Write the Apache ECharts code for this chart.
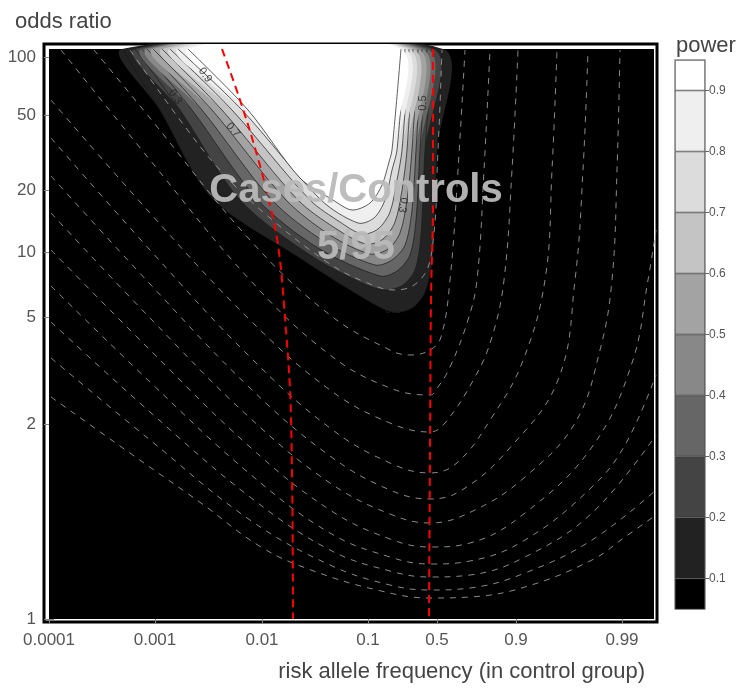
<!doctype html>
<html lang="en">
<head>
<meta charset="utf-8">
<title>Power contour</title>
<script src="https://cdn.jsdelivr.net/npm/echarts@6/dist/echarts.min.js"></script>
</head>
<body style="margin:0;background:#fff">
<div id="main" style="width:750px;height:700px;"></div>
<script>
// axis positions (scale units) and their tick labels
var xTickPos = [0, 1.06, 2.13, 3.19, 3.88, 4.67, 5.73];
var xTickLabels = ['0.0001', '0.001', '0.01', '0.1', '0.5', '0.9', '0.99'];
var yTickPos = [0, 1.95, 3.02, 3.67, 4.29, 5.04, 5.62];
var yTickLabels = ['1', '2', '5', '10', '20', '50', '100'];

// power contours 0.1 .. 0.9
var powerLevels = [0.1, 0.2, 0.3, 0.4, 0.5, 0.6, 0.7, 0.8, 0.9];
var bandColors = ['#222222', '#444444', '#666666', '#888888', '#a3a3a3', '#c4c4c4', '#dcdcdc', '#efefef', '#ffffff'];
var contours = [
  [[0.73,5.70],[1.11,5.09],[1.63,4.21],[2.51,3.61],[3.18,3.19],[3.44,3.07],[3.63,3.11],[3.76,3.27],[3.83,3.59],[3.88,4.69],[3.94,5.70]],
  [[0.86,5.70],[1.31,5.09],[1.91,4.19],[2.61,3.64],[3.11,3.37],[3.36,3.29],[3.54,3.34],[3.66,3.49],[3.72,3.84],[3.76,4.69],[3.84,5.70]],
  [[0.93,5.70],[1.43,5.09],[2.09,4.19],[2.69,3.71],[3.31,3.43],[3.48,3.48],[3.61,3.64],[3.67,3.99],[3.71,4.69],[3.78,5.70]],
  [[0.98,5.70],[1.53,5.09],[2.23,4.19],[2.76,3.77],[3.26,3.54],[3.43,3.59],[3.56,3.74],[3.63,4.09],[3.67,4.69],[3.73,5.70]],
  [[1.04,5.70],[1.63,5.09],[2.37,4.19],[2.81,3.84],[3.21,3.65],[3.39,3.70],[3.51,3.86],[3.58,4.19],[3.63,4.69],[3.69,5.70]],
  [[1.13,5.70],[1.73,5.09],[2.49,4.19],[2.86,3.91],[3.17,3.75],[3.34,3.80],[3.46,3.97],[3.53,4.29],[3.58,4.69],[3.64,5.70]],
  [[1.21,5.70],[1.83,5.09],[2.61,4.19],[2.91,3.97],[3.13,3.85],[3.29,3.90],[3.41,4.07],[3.48,4.39],[3.53,4.69],[3.60,5.70]],
  [[1.29,5.70],[1.93,5.09],[2.72,4.19],[3.09,3.96],[3.25,4.01],[3.36,4.19],[3.43,4.49],[3.48,4.69],[3.56,5.70]],
  [[1.39,5.70],[1.99,5.09],[2.51,4.41],[2.84,4.19],[3.03,4.09],[3.21,4.16],[3.33,4.34],[3.40,4.57],[3.43,4.69],[3.52,5.70]]
];
var contourLabels = [
  [1.56, 5.44, '0.9', -55], [1.26, 5.22, '0.3', -55], [1.84, 4.89, '0.7', -50],
  [3.74, 5.16, '0.5', 90], [3.54, 4.14, '0.3', -100], [3.44, 3.09, '0.1', 0]
];

// gray dashed iso-curves
var dashCurves = [
  [[0.81,5.69],[1.31,4.99],[1.71,4.49],[2.14,4.07],[2.78,3.57],[3.16,3.37],[3.46,3.29],[3.71,3.39],[3.83,3.69],[3.89,4.69],[3.93,5.69]],
  [[0.45,5.69],[1.01,5.01],[2.01,3.79],[2.81,3.04],[3.41,2.69],[3.61,2.64],[3.81,2.69],[3.92,2.82],[4.01,3.39],[4.09,4.49],[4.16,5.69]],
  [[0.12,5.69],[1.01,4.59],[2.01,3.39],[2.81,2.64],[3.41,2.31],[3.81,2.24],[3.89,2.32],[4.01,2.52],[4.19,2.99],[4.28,3.39],[4.35,4.49],[4.41,5.69]],
  [[0.02,5.19],[1.01,4.06],[2.01,2.99],[2.81,2.29],[3.41,1.96],[3.81,1.87],[3.96,1.96],[4.26,2.42],[4.43,2.82],[4.55,3.39],[4.63,4.49],[4.69,5.69]],
  [[0.02,4.81],[1.01,3.69],[2.01,2.62],[2.81,1.91],[3.41,1.56],[3.81,1.46],[4.09,1.57],[4.43,2.02],[4.73,2.56],[4.96,3.39],[5.03,4.49],[5.08,5.69]],
  [[0.02,4.43],[1.01,3.35],[2.01,2.31],[2.81,1.63],[3.41,1.29],[3.81,1.20],[4.13,1.29],[4.59,1.69],[5.09,2.39],[5.26,3.39],[5.34,4.49],[5.39,5.69]],
  [[0.02,4.06],[1.01,3.01],[2.01,2.01],[2.81,1.36],[3.41,1.05],[3.81,0.96],[4.26,1.09],[4.76,1.42],[5.26,1.96],[5.51,2.69],[5.63,3.39],[5.68,4.49],[5.71,5.69]],
  [[0.02,3.69],[1.01,2.69],[2.01,1.72],[2.81,1.09],[3.41,0.80],[3.81,0.72],[4.21,0.76],[4.76,1.06],[5.43,1.72],[5.83,2.56],[5.99,3.39],[6.07,3.89]],
  [[0.02,3.33],[1.01,2.37],[2.01,1.45],[2.81,0.86],[3.41,0.62],[3.81,0.55],[4.21,0.58],[4.76,0.79],[5.43,1.32],[5.76,1.74],[6.07,2.44]],
  [[0.02,2.97],[1.01,2.07],[2.01,1.22],[2.81,0.69],[3.41,0.48],[3.81,0.42],[4.21,0.44],[4.76,0.62],[5.43,1.06],[6.07,1.84]],
  [[0.02,2.61],[1.01,1.79],[2.01,0.99],[2.81,0.54],[3.41,0.34],[3.81,0.29],[4.21,0.31],[4.76,0.46],[5.43,0.79],[6.07,1.29]],
  [[0.02,2.22],[0.95,1.56],[1.52,1.16],[2.12,0.72],[2.62,0.49],[3.28,0.29],[3.81,0.21],[4.21,0.22],[4.76,0.32],[5.43,0.59],[5.76,0.82],[6.07,1.04]]
];

// red dashed reference lines
var redLeft = [[1.73,5.70],[1.91,5.19],[2.08,4.64],[2.21,4.14],[2.29,3.74],[2.35,3.14],[2.42,2.02],[2.44,0]];
var redRight = [[3.84,5.70],[3.84,4.19],[3.82,3.19],[3.81,1.69],[3.80,0]];

// plot area extent and colour bar bands
var plotBox = [[0, 0], [6.05, 5.70]];
var barLevels = [0.1, 0.2, 0.3, 0.4, 0.5, 0.6, 0.7, 0.8, 0.9];
var barColors = ['#000000', '#222222', '#444444', '#666666', '#888888', '#a3a3a3', '#c4c4c4', '#dcdcdc', '#efefef', '#ffffff'];
var barSizes = [0.1, 0.1, 0.1, 0.1, 0.1, 0.1, 0.1, 0.1, 0.1, 0.05];

function labelFor(pos, labels, value) {
  for (var i = 0; i < pos.length; i++) if (Math.abs(pos[i] - value) < 1e-6) return labels[i];
  return '';
}

var chart = echarts.init(document.getElementById('main'));
var FONT = 'Liberation Sans';

function axisX(pos, show) {
  return {
    type: 'value', gridIndex: 0, min: -0.05, max: 6.08, position: pos,
    axisLine: { show: false }, splitLine: { show: false },
    axisTick: { show: true, customValues: xTickPos, length: 5, lineStyle: { color: '#888' } },
    axisLabel: { show: show, customValues: xTickPos, color: '#555', fontSize: 17, fontFamily: FONT, margin: 10,
      formatter: function (v) { return labelFor(xTickPos, xTickLabels, v); } }
  };
}
function axisY(pos, show) {
  return {
    type: 'value', gridIndex: 0, min: -0.03, max: 5.75, position: pos,
    axisLine: { show: false }, splitLine: { show: false },
    axisTick: { show: true, customValues: yTickPos, length: 5, lineStyle: { color: '#888' } },
    axisLabel: { show: show, customValues: yTickPos, color: '#555', fontSize: 17, fontFamily: FONT, margin: 8,
      formatter: function (v) { return labelFor(yTickPos, yTickLabels, v); } }
  };
}

var series = [];
series.push({
  type: 'custom', xAxisIndex: 0, yAxisIndex: 0, clip: true, silent: true, z: 1,
  data: [0],
  renderItem: function (params, api) {
    var a = api.coord(plotBox[0]), b = api.coord(plotBox[1]);
    return { type: 'rect', shape: { x: a[0], y: b[1], width: b[0] - a[0], height: a[1] - b[1] }, style: { fill: '#000' } };
  }
});
series.push({
  type: 'custom', xAxisIndex: 0, yAxisIndex: 0, clip: true, silent: true, z: 2,
  data: powerLevels.map(function (l, i) { return [i]; }),
  renderItem: function (params, api) {
    var i = api.value(0);
    var pts = contours[i].map(function (p) { return api.coord(p); });
    return { type: 'group', children: [
      { type: 'polygon', shape: { points: pts, smooth: 0.3 }, style: { fill: bandColors[i] } },
      { type: 'polyline', shape: { points: pts, smooth: 0.3 }, style: { stroke: '#1a1a1a', lineWidth: 0.7, fill: null } }
    ] };
  }
});
dashCurves.forEach(function (c) {
  series.push({ type: 'line', xAxisIndex: 0, yAxisIndex: 0, data: c, smooth: 0.4, symbol: 'none', silent: true, z: 3,
    lineStyle: { color: '#9a9a9a', width: 0.9, type: [6, 6] } });
});
[redLeft, redRight].forEach(function (c) {
  series.push({ type: 'line', xAxisIndex: 0, yAxisIndex: 0, data: c, smooth: 0.4, symbol: 'none', silent: true, z: 4,
    lineStyle: { color: '#ff0000', width: 2, type: [8, 5] } });
});
series.push({
  type: 'scatter', xAxisIndex: 0, yAxisIndex: 0, symbolSize: 0, silent: true, z: 5,
  data: contourLabels.map(function (d) {
    return { value: [d[0], d[1]], label: { show: true, formatter: d[2], rotate: d[3], position: 'inside',
      color: '#222', fontSize: 11, fontFamily: FONT } };
  })
});
barSizes.forEach(function (v, i) {
  series.push({ type: 'bar', xAxisIndex: 2, yAxisIndex: 2, stack: 'cb', data: [v], barWidth: '100%', silent: true,
    itemStyle: { color: barColors[i], borderColor: '#333', borderWidth: 0.6 } });
});

chart.setOption({
  animation: false,
  title: [
    { text: 'odds ratio', left: 10, top: 6, textStyle: { color: '#444', fontSize: 22, fontWeight: 'normal', fontFamily: FONT } },
    { text: 'risk allele frequency (in control group)', right: 100, top: 656, textStyle: { color: '#444', fontSize: 22, fontWeight: 'normal', fontFamily: FONT } },
    { text: 'power', left: 671, top: 30, textStyle: { color: '#444', fontSize: 22, fontWeight: 'normal', fontFamily: FONT } },
    { text: 'Cases/Controls', left: 351, top: 166, textAlign: 'center', z: 10, textStyle: { color: 'rgba(185,185,185,0.95)', fontSize: 40, fontWeight: 'bold', fontFamily: FONT } },
    { text: '5/95', left: 351, top: 223, textAlign: 'center', z: 10, textStyle: { color: 'rgba(185,185,185,0.95)', fontSize: 40, fontWeight: 'bold', fontFamily: FONT } }
  ],
  grid: [
    { left: 44, right: 93, top: 44, bottom: 78, show: true, borderColor: '#000', borderWidth: 3, backgroundColor: '#fff' },
    { left: 675, width: 30, top: 60, height: 549, show: true, borderColor: '#999', borderWidth: 1.5 }
  ],
  xAxis: [
    axisX('bottom', true), axisX('top', false),
    { type: 'category', gridIndex: 1, data: ['power'], show: false }
  ],
  yAxis: [
    axisY('left', true), axisY('right', false),
    { type: 'value', gridIndex: 1, min: 0.05, max: 0.95, position: 'right',
      axisLine: { show: false }, splitLine: { show: false },
      axisTick: { show: true, customValues: barLevels, length: 4, lineStyle: { color: '#666' } },
      axisLabel: { customValues: barLevels, color: '#555', fontSize: 12, fontFamily: FONT, margin: 4,
        formatter: function (v) { return v.toFixed(1); } } }
  ],
  series: series
});
</script>
</body>
</html>
